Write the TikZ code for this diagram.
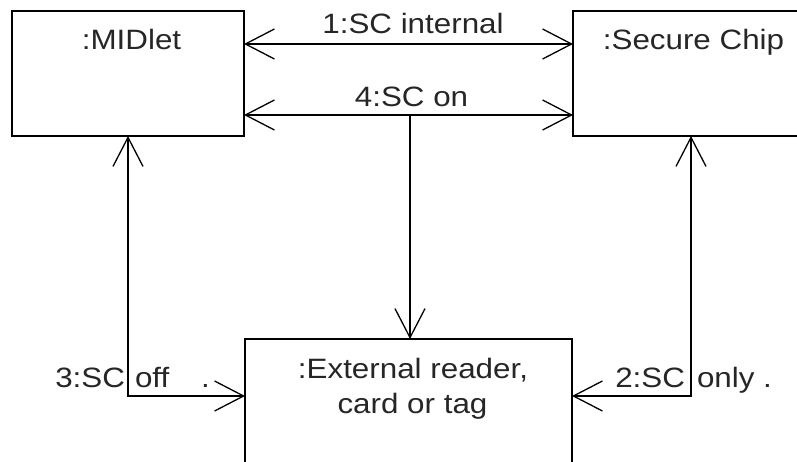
\documentclass[tikz,border=0pt]{standalone}
\usepackage{fontspec}
\setmainfont{Liberation Sans}[FakeStretch=1.12]
\usetikzlibrary{arrows.meta}
\tikzset{vtip/.tip={Straight Barb[length=29pt,width=30pt]}}
\begin{document}
\begin{tikzpicture}[x=1pt,y=-1pt,
  every node/.style={inner sep=0pt, outer sep=0pt, text=black!85,
    font=\fontsize{28}{35}\selectfont},
  objbox/.style={draw, line width=1.4pt, rectangle},
  msg/.style={line width=1.3pt},
  twoway/.style={msg, vtip-vtip},
  oneway/.style={msg, -vtip}]
  \useasboundingbox (0,0) rectangle (797,462);
  \clip (0,0) rectangle (797,462);

  % object boxes
  \node[objbox, minimum width=232pt, minimum height=125pt] (midlet) at (128,73.5) {};
  \node[objbox, minimum width=241pt, minimum height=125pt] (chip) at (693.5,73.5) {};
  \node[objbox, minimum width=327pt, minimum height=160pt] (ext) at (408.5,419) {};

  % object names
  \node[anchor=base] (midletname) at (131.5,50) {:MIDlet};
  \node[anchor=base] (chipname) at (693.5,50) {:Secure Chip};
  \node[anchor=base] (extname1) at (413,378) {:External reader,};
  \node[anchor=base] (extname2) at (412.5,413) {card or tag};

  % helper points
  \coordinate (y1) at (0,44);
  \coordinate (y4) at (0,115);
  \coordinate (yb) at (0,396);
  \coordinate (j4) at (410,115);
  \coordinate (cx) at (691,0);

  % messages between MIDlet and Secure Chip
  \draw[twoway] (midlet.east |- y1) -- (chip.west |- y1);
  \draw[twoway] (midlet.east |- y4) -- (chip.west |- y4);
  \draw[oneway] (j4) -- (ext.north -| j4);

  % messages to the external reader
  \draw[twoway] (midlet.south) |- (ext.west |- yb);
  \draw[twoway] (chip.south -| cx) |- (ext.east |- yb);

  % message labels
  \node[anchor=base] (m1) at (413,34) {1:SC internal};
  \node[anchor=base] (m4) at (411.5,107) {4:SC on};
  \node[anchor=base east] (m3a) at (125,387) {3:SC};
  \node[anchor=base west] (m3b) at (135,387) {off};
  \node[anchor=base west] (m3c) at (201,387) {.};
  \node[anchor=base east] (m2a) at (685,387) {2:SC};
  \node[anchor=base west] (m2b) at (697,387) {only .};
\end{tikzpicture}
\end{document}
